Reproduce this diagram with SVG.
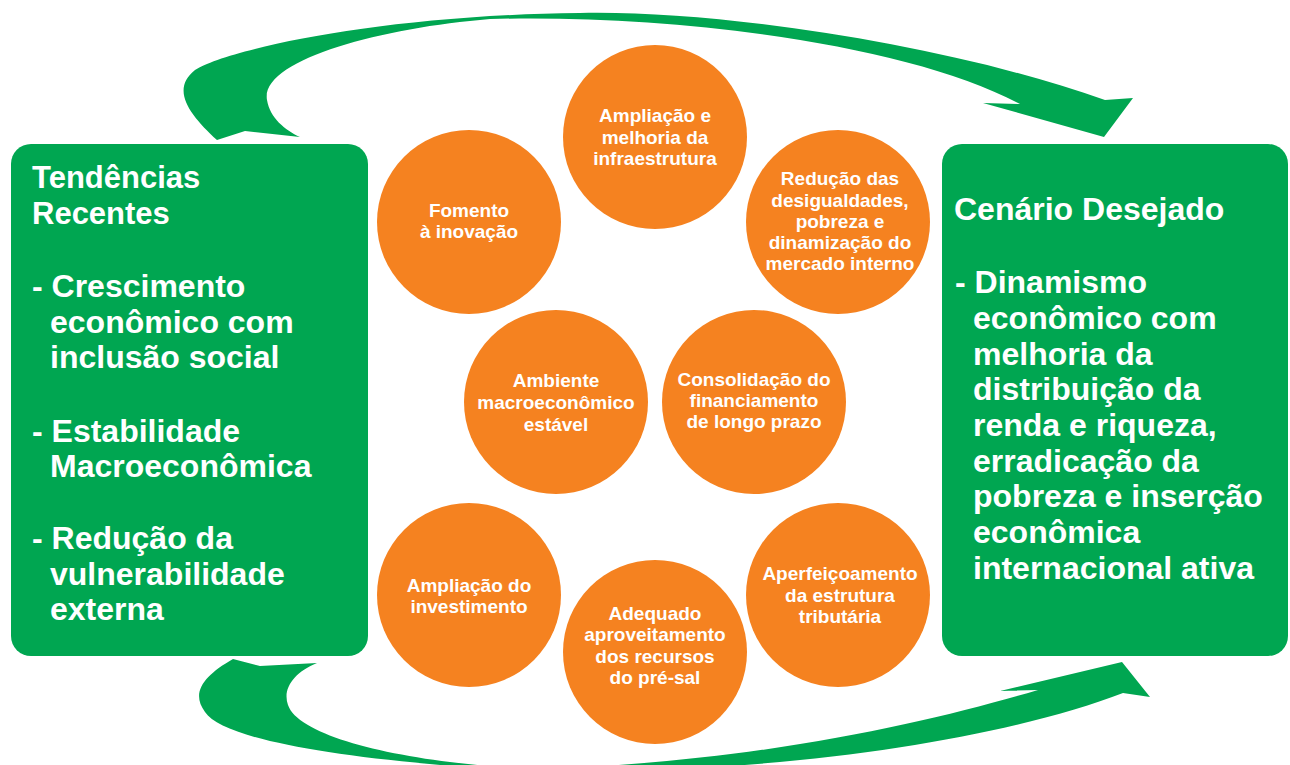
<svg xmlns="http://www.w3.org/2000/svg" width="1290" height="765" viewBox="0 0 1290 765">
<style>
.box{fill:#00A651}
.circ{fill:#F58220}
.arrow{fill:#00A651}
.ct{font-family:"Liberation Sans",Arial,sans-serif;font-weight:bold;font-size:19px;fill:#fff;text-anchor:middle}
.bt{font-family:"Liberation Sans",Arial,sans-serif;font-weight:bold;font-size:32px;fill:#fff}
.tt{font-family:"Liberation Sans",Arial,sans-serif;font-weight:bold;font-size:31px;fill:#fff}
</style>
<rect width="1290" height="765" fill="#fff"/>
<g id="connectors">
<path class="arrow" d="M217,140 C190,115 170,90 195,70 C225,50 380,15 580,13 C720,10 950,45 1105,100 L1133,98 L1104,137 L983,103 L1020,104 C910,45 680,14 490,19 C380,28 260,60 267,100 C270,118 285,130 300,137 L245,131 Z"/>
<path class="arrow" d="M233,659 C205,675 190,692 205,712 C225,742 360,762 540,772 C780,774 1000,740 1123,693 L1150,697 L1122,662 L1000,691 L1038,690 C930,722 760,762 540,769 C420,765 300,740 288,705 C282,688 295,672 317,663 L260,666 Z"/>
</g>
<g id="left-box">
<rect class="box" x="11" y="144" width="357" height="512" rx="20"/>
<text class="tt" x="32" y="188">Tendências</text>
<text class="tt" x="32" y="224">Recentes</text>
<text class="bt" x="32" y="297">- Crescimento</text>
<text class="bt" x="50" y="333">econômico com</text>
<text class="bt" x="50" y="368">inclusão social</text>
<text class="bt" x="32" y="442">- Estabilidade</text>
<text class="bt" x="50" y="477">Macroeconômica</text>
<text class="bt" x="32" y="549">- Redução da</text>
<text class="bt" x="50" y="585">vulnerabilidade</text>
<text class="bt" x="50" y="620">externa</text>
</g>
<g id="right-box">
<rect class="box" x="942" y="144" width="346" height="512" rx="20"/>
<text class="bt" x="954" y="220">Cenário Desejado</text>
<text class="bt" x="955" y="293">- Dinamismo</text>
<text class="bt" x="973" y="329">econômico com</text>
<text class="bt" x="973" y="365">melhoria da</text>
<text class="bt" x="973" y="400">distribuição da</text>
<text class="bt" x="973" y="436">renda e riqueza,</text>
<text class="bt" x="973" y="472">erradicação da</text>
<text class="bt" x="973" y="507">pobreza e inserção</text>
<text class="bt" x="973" y="543">econômica</text>
<text class="bt" x="973" y="579">internacional ativa</text>
</g>
<g id="c-fomento">
<ellipse class="circ" cx="469" cy="222" rx="92" ry="92"/>
<text class="ct"><tspan x="469" y="217">Fomento</tspan><tspan x="469" y="238">à inovação</tspan></text>
</g>
<g id="c-infra">
<ellipse class="circ" cx="655" cy="137" rx="92" ry="92"/>
<text class="ct"><tspan x="655" y="122">Ampliação e</tspan><tspan x="655" y="144">melhoria da</tspan><tspan x="655" y="165">infraestrutura</tspan></text>
</g>
<g id="c-desigualdades">
<ellipse class="circ" cx="838" cy="222" rx="92" ry="92"/>
<text class="ct"><tspan x="840" y="185">Redução das</tspan><tspan x="840" y="207">desigualdades,</tspan><tspan x="840" y="228">pobreza e</tspan><tspan x="840" y="249">dinamização do</tspan><tspan x="840" y="270">mercado interno</tspan></text>
</g>
<g id="c-ambiente">
<ellipse class="circ" cx="556" cy="402" rx="92" ry="92"/>
<text class="ct"><tspan x="556" y="387">Ambiente</tspan><tspan x="556" y="409">macroeconômico</tspan><tspan x="556" y="431">estável</tspan></text>
</g>
<g id="c-financiamento">
<ellipse class="circ" cx="754" cy="402" rx="92" ry="92"/>
<text class="ct"><tspan x="754" y="386">Consolidação do</tspan><tspan x="754" y="407">financiamento</tspan><tspan x="754" y="428">de longo prazo</tspan></text>
</g>
<g id="c-investimento">
<ellipse class="circ" cx="469" cy="595" rx="92" ry="92"/>
<text class="ct"><tspan x="469" y="592">Ampliação do</tspan><tspan x="469" y="613">investimento</tspan></text>
</g>
<g id="c-presal">
<ellipse class="circ" cx="655" cy="652" rx="92" ry="92"/>
<text class="ct"><tspan x="655" y="620">Adequado</tspan><tspan x="655" y="641">aproveitamento</tspan><tspan x="655" y="663">dos recursos</tspan><tspan x="655" y="684">do pré-sal</tspan></text>
</g>
<g id="c-tributaria">
<ellipse class="circ" cx="838" cy="595" rx="92" ry="92"/>
<text class="ct"><tspan x="840" y="580">Aperfeiçoamento</tspan><tspan x="840" y="602">da estrutura</tspan><tspan x="840" y="623">tributária</tspan></text>
</g>
</svg>
